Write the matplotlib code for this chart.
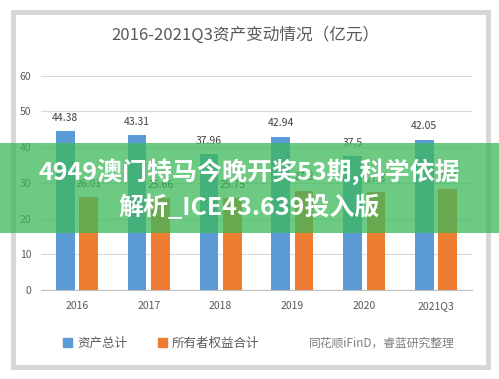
import matplotlib.pyplot as plt
from matplotlib.patches import Rectangle, Patch
import numpy as np

plt.rcParams['font.family'] = ['Noto Sans CJK SC', 'DejaVu Sans']

categories = ["2016", "2017", "2018", "2019", "2020", "2021Q3"]
total_assets = [44.38, 43.31, 37.96, 42.94, 37.5, 42.05]
owner_equity = [26.01, 25.66, 25.75, 27.8, 27.3, 28.4]
series_names = ["资产总计", "所有者权益合计"]

BLUE = "#5b9bd5"
ORANGE = "#ed7d31"
TEXT = "#595959"

W, H = 499, 379
fig = plt.figure(figsize=(W / 100, H / 100), dpi=100)
fig.patch.set_facecolor("white")

# card frame with grey shadow edge
fig.patches.append(Rectangle((13 / W, 1 - 367 / H), 475 / W, 355 / H,
                             transform=fig.transFigure, facecolor="white",
                             edgecolor="#d6d6d6", linewidth=3.5, zorder=-1))

ax = fig.add_axes([41 / W, 1 - 290 / H, 431 / W, (290 - 75.7) / H])
ax.set_facecolor("none")

x = np.arange(len(categories))
w = 0.26
b1 = ax.bar(x - 0.163, total_assets, w, color=BLUE, zorder=2)
b2 = ax.bar(x + 0.163, owner_equity, w, color=ORANGE, zorder=2)
for cont in (b1, b2):
    ax.bar_label(cont, padding=6, fontsize=7.5, color="#404040")

ax.set_xlim(-0.5, 5.5)
ax.set_ylim(0, 60)
ax.set_yticks(range(0, 61, 10))
ax.set_xticks(x)
ax.set_xticklabels(categories)
ax.tick_params(length=0, labelsize=7.5, colors=TEXT)
ax.tick_params(axis="y", pad=7)
ax.tick_params(axis="x", pad=8)
ax.grid(axis="y", color="#d9d9d9", linewidth=0.8, zorder=0)
for s in ["top", "right", "left"]:
    ax.spines[s].set_visible(False)
ax.spines["bottom"].set_color("#bfbfbf")

fig.text(245 / W, 1 - 35 / H, "2016-2021Q3资产变动情况（亿元）",
         ha="center", va="center", fontsize=12, color=TEXT)

handles = [Patch(color=BLUE), Patch(color=ORANGE)]
fig.legend(handles, series_names, loc="center left",
           bbox_to_anchor=(52 / W, 1 - 343 / H), ncol=2, frameon=False,
           fontsize=9, handlelength=0.7, handleheight=0.7, handletextpad=0.4,
           columnspacing=2.5, labelcolor=TEXT)
fig.text(455 / W, 1 - 343 / H, "同花顺iFinD，睿蓝研究整理", ha="right",
         va="center", fontsize=8.5, color="#7f7f7f")

# green overlay banner
fig.patches.append(Rectangle((0, 1 - 233 / H), 1, 90 / H,
                             transform=fig.transFigure, facecolor="#3cb95a",
                             alpha=0.75, edgecolor="none", zorder=5))
fig.text(0.5, 1 - 172 / H, "4949澳门特马今晚开奖53期,科学依据",
         ha="center", va="center", fontsize=18, fontweight="heavy",
         color="white", zorder=6)
fig.text(0.5, 1 - 207 / H, "解析_ICE43.639投入版",
         ha="center", va="center", fontsize=18, fontweight="heavy",
         color="white", zorder=6)

fig.savefig("out.png", dpi=100)
